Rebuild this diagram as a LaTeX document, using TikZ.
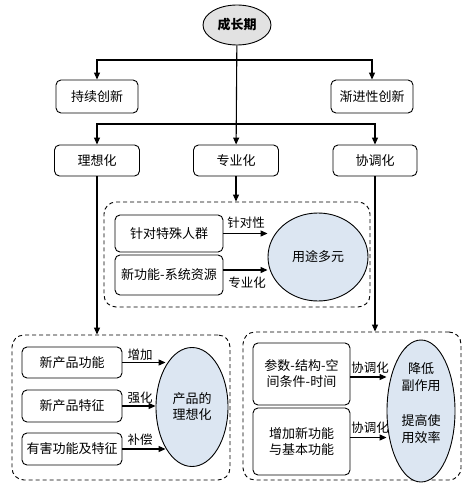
\documentclass[tikz,border=0pt]{standalone}
\usepackage{fontspec}
\setmainfont{Noto Sans CJK SC}
\usetikzlibrary{shapes.geometric,arrows.meta}
\definecolor{goalblue}{RGB}{220,230,242}
\definecolor{rootgray}{RGB}{226,226,226}

\begin{document}
\begin{tikzpicture}[x=1pt,y=-1pt]
    \tikzstyle{every node}=[font=\fontsize{13}{16}\selectfont]
    \tikzstyle{box}=[draw,rounded corners=5pt,line width=0.9pt,align=center,inner sep=2pt]
    \tikzstyle{frame}=[draw,dash pattern=on 4pt off 3pt,rounded corners=12pt,line width=0.9pt]
    \tikzstyle{goal}=[draw,ellipse,fill=goalblue,line width=0.9pt,align=center,inner sep=0pt]
    \tikzstyle{arr}=[-{Triangle[length=7pt,width=6pt]},line width=1.1pt]
    \tikzstyle{lab}=[font=\fontsize{12.5}{14}\selectfont,inner sep=1pt]
    \useasboundingbox (0,0) rectangle (470,489);

    \node[draw,ellipse,fill=rootgray,line width=0.9pt,minimum width=68pt,minimum height=40pt,
      font=\fontsize{13}{16}\selectfont\bfseries] (grow) at (237,25) {成长期};
    \node[box,minimum width=82pt,minimum height=33pt] (sust) at (97,96.5) {持续创新};
    \node[box,minimum width=82pt,minimum height=33pt] (incr) at (372,96.5) {渐进性创新};
    \node[box,minimum width=85pt,minimum height=31pt] (ideal) at (97,160.5) {理想化};
    \node[box,minimum width=85pt,minimum height=31pt] (spec) at (236,160.5) {专业化};
    \node[box,minimum width=84pt,minimum height=31pt] (coord) at (375,160.5) {协调化};
    \coordinate (j1) at (237,60);
    \coordinate (j2) at (237,124);
    \draw[arr] (grow) -- (spec);
    \draw[arr] (j1) -| (sust);
    \draw[arr] (j1) -| (incr);
    \draw[arr] (j2) -| (ideal);
    \draw[arr] (j2) -| (coord);

    \node[frame,minimum width=266pt,minimum height=105pt] (mbox) at (237,254.5) {};
    \node[box,minimum width=108pt,minimum height=37pt] (crowd) at (169,233.5) {针对特殊人群};
    \node[box,minimum width=108pt,minimum height=40pt] (newfn) at (169,275) {新功能-系统资源};
    \node[goal,minimum width=100pt,minimum height=88pt] (multi) at (318,257) {用途多元};
    \draw[arr] (spec) -- (spec |- mbox.north);
    \draw[arr] (crowd) -- (crowd -| multi.west);
    \draw[arr] ([yshift=5pt]newfn.east) -- ([yshift=5pt]newfn.east -| multi.west);
    \node[lab] (lcrowd) at (246,223) {针对性};
    \node[lab] (lnewfn) at (247,283) {专业化};

    \node[frame,minimum width=218pt,minimum height=145pt] (lbox) at (121,407.5) {};
    \node[box,minimum width=100pt,minimum height=31pt] (pfunc) at (72,362.5) {新产品功能};
    \node[box,minimum width=100pt,minimum height=32pt] (pfeat) at (72,406) {新产品特征};
    \node[box,minimum width=100pt,minimum height=32pt] (harm) at (72,449) {有害功能及特征};
    \node[goal,minimum width=72pt,minimum height=119pt] (pideal) at (192,407) {产品的\\理想化};
    \draw[arr] (ideal) -- (ideal |- lbox.north);
    \draw[arr,shorten >=-10pt] (pfunc) -- (pfunc -| pideal.west);
    \draw[arr] (pfeat) -- (pfeat -| pideal.west);
    \draw[arr,shorten >=-10pt] (harm) -- (harm -| pideal.west);
    \node[lab] (lpfunc) at (140,355) {增加};
    \node[lab] (lpfeat) at (140,398) {强化};
    \node[lab] (lharm) at (140,440) {补偿};

    \node[frame,minimum width=218pt,minimum height=148pt] (rbox) at (352,406) {};
    \node[box,minimum width=97pt,minimum height=62pt] (param) at (301.5,374) {参数-结构-空\\间条件-时间};
    \node[box,minimum width=97pt,minimum height=67pt] (addfn) at (301.5,441.5) {增加新功能\\与基本功能};
    \node[goal,minimum width=68pt,minimum height=142pt] (effect) at (421,411) {};
    \node[align=center,font=\fontsize{13}{17}\selectfont] (efftext) at (421,403) {降低\\副作用\\[18pt]提高使\\用效率};
    \draw[arr] (coord) -- (coord |- rbox.north);
    \draw[arr] ([yshift=-3pt]param.east) -- ([yshift=-3pt]param.east -| effect.west);
    \draw[arr] ([yshift=4pt]addfn.east) -- ([yshift=4pt]addfn.east -| effect.west);
    \node[lab] (lparam) at (370,368) {协调化};
    \node[lab] (laddfn) at (370,428) {协调化};
\end{tikzpicture}
\end{document}
